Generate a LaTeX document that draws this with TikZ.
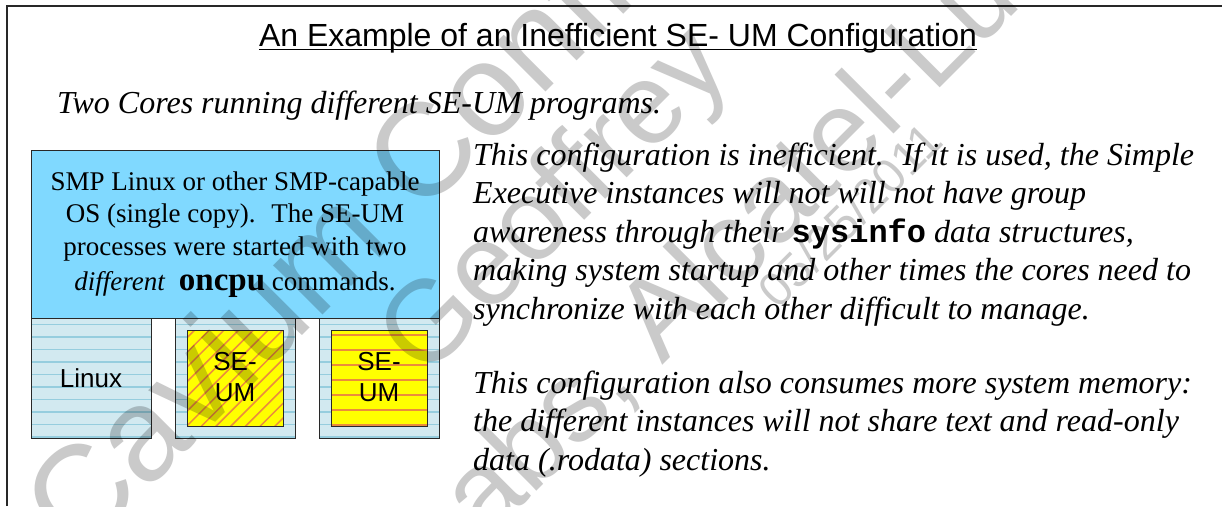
\documentclass[tikz,border=0pt]{standalone}
\usepackage{fontspec}
\setmainfont{Liberation Serif}
\setsansfont{Liberation Sans}
\setmonofont{Liberation Mono}
\definecolor{frameC}{RGB}{40,40,40}
\definecolor{skyC}{RGB}{128,217,255}
\definecolor{paneC}{RGB}{210,233,240}
\definecolor{paneLine}{RGB}{150,205,222}
\definecolor{yelC}{RGB}{255,255,0}
\definecolor{oraC}{RGB}{235,140,60}
\definecolor{wmC}{RGB}{202,202,202}
\begin{document}
\begin{tikzpicture}[x=1pt,y=-1pt,
  boxline/.style={draw=frameC, line width=1pt},
  panel/.style={boxline, fill=paneC, minimum width=120, minimum height=120, anchor=north west, inner sep=0},
  sebox/.style={boxline, fill=yelC, minimum width=96, minimum height=96, anchor=north west, inner sep=0},
  sanslbl/.style={font=\sffamily\fontsize{26}{30}\selectfont, anchor=base, inner sep=0},
  para/.style={anchor=base west, inner sep=0, font=\itshape\fontsize{32}{38}\selectfont},
  boxtxt/.style={anchor=base, inner sep=0, font=\fontsize{27}{33}\selectfont},
  wm/.style={text=wmC, font=\sffamily\fontsize{115}{120}\selectfont, anchor=base west, inner sep=0, rotate=45}]
\useasboundingbox (0,0) rectangle (1225,506);
\fill[white] (0,0) rectangle (1225,506);
% frame
\coordinate (fbl) at (7,506);
\coordinate (ftl) at (7,6);
\coordinate (ftr) at (1222,6);
\draw[frameC, line width=1.5pt] (fbl) -- (ftl) -- (ftr);
% title
\node[anchor=base, inner sep=0, font=\sffamily\fontsize{32}{36}\selectfont] (title) at (618,46) {An Example of an Inefficient SE- UM Configuration};
\draw[line width=1.6pt] ([yshift=-3.5pt]title.base west) -- ([yshift=-3.5pt]title.base east);
\node[para] (sub) at (57,113) {Two Cores running different SE-UM programs.};
% OS box
\node[boxline, fill=skyC, minimum width=408, minimum height=168, anchor=north west, inner sep=0] (os) at (31,150) {};
\node[boxtxt] (os1) at (235,190) {SMP Linux or other SMP-capable};
\node[boxtxt] (os2) at (235,222) {OS (single copy).~ The SE-UM};
\node[boxtxt] (os3) at (235,255) {processes were started with two};
\node[boxtxt] (os4) at (235,290) {\textit{different}~ {\bfseries\fontsize{33}{33}\selectfont oncpu} commands.};
% panels
\foreach \px/\nm in {31/linuxp,175/corep2,319/corep3}{
  \node[panel] (\nm) at (\px,318) {};
  \begin{scope}
    \clip (\px,318) rectangle ++(120,120);
    \foreach \yy in {324.5,337,...,437}
      \draw[paneLine, line width=1.2pt] (\px,\yy) -- ++(120,0);
  \end{scope}
  \draw[boxline] (\px,318) rectangle ++(120,120);
}
% SE-UM boxes
\node[sebox] (se2) at (187,330) {};
\node[sebox] (se3) at (331,330) {};
\begin{scope}
  \clip (187,330) rectangle (283,426);
  \foreach \c in {510,524.7,...,720}
    \draw[oraC, line width=1.5pt] (170,\c-170) -- (300,\c-300);
\end{scope}
\begin{scope}
  \clip (331,330) rectangle (427,426);
  \foreach \yy in {335,350,...,426}
    \draw[oraC, line width=1.5pt] (331,\yy) -- (427,\yy);
\end{scope}
\draw[boxline] (187,330) rectangle (283,426);
\draw[boxline] (331,330) rectangle (427,426);
\node[sanslbl] (lx) at (91,387) {Linux};
\node[sanslbl] (s2a) at (235,370) {SE-};
\node[sanslbl] (s2b) at (235,401) {UM};
\node[sanslbl] (s3a) at (379,370) {SE-};
\node[sanslbl] (s3b) at (379,401) {UM};
% right paragraphs
\node[para] (p1) at (473,165) {This configuration is inefficient.~ If it is used, the Simple};
\node[para] (p2) at (473,203.5) {Executive instances will not will not have group};
\node[para] (p3) at (473,242) {awareness through their \textbf{\upshape\ttfamily sysinfo} data structures,};
\node[para] (p4) at (473,280.5) {making system startup and other times the cores need to};
\node[para] (p5) at (473,319) {synchronize with each other difficult to manage.};
\node[para] (q1) at (473,393) {This configuration also consumes more system memory:};
\node[para] (q2) at (473,431.5) {the different instances will not share text and read-only};
\node[para] (q3) at (473,470) {data (.rodata) sections.};
% watermark
\begin{scope}[blend mode=multiply]
\node[wm, font=\sffamily\fontsize{132}{136}\selectfont] (wm1) at (78,560) {Cavium Confidential};
\node[wm] (wm2) at (424,381) {Geoffrey};
\node[wm] (wm3) at (441,587) {Labs, Alcatel-Lucent};
\node[wm, anchor=center, font=\sffamily\fontsize{48}{50}\selectfont] (wm4) at (850,215) {05/25/2011};
\end{scope}
\end{tikzpicture}
\end{document}
